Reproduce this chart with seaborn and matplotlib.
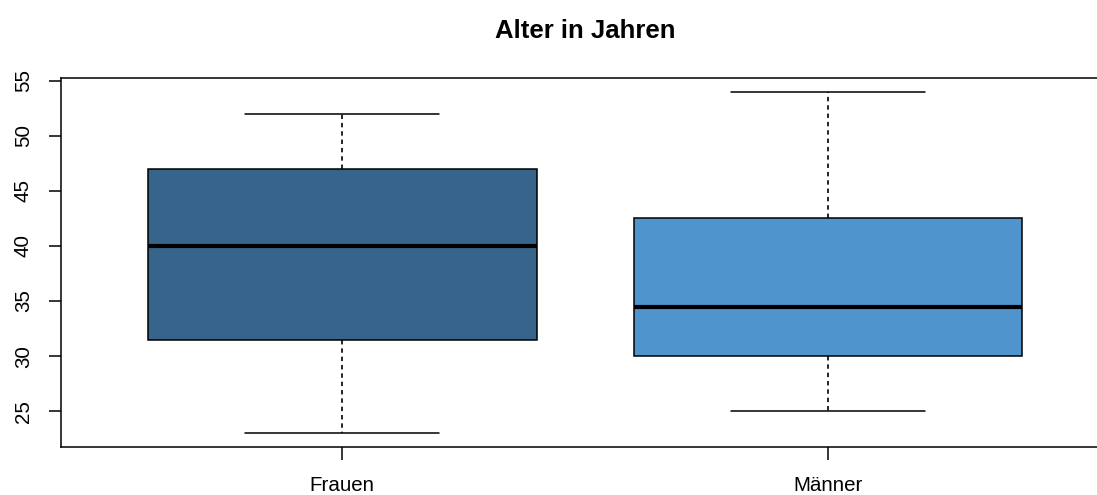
import pandas as pd
import seaborn as sns
import matplotlib.pyplot as plt

# Five-number summaries (min, Q1, median, Q3, max)
gruppen = ['Frauen', 'Männer']
alter_frauen = [23, 31.5, 40, 47, 52]
alter_maenner = [25, 30, 34.5, 42.5, 54]
farben = ['#36648B', '#4F94CD']  # steelblue4 / steelblue3
y_ticks = [25, 30, 35, 40, 45, 50, 55]

df = pd.DataFrame({
    'gruppe': [gruppen[0]] * len(alter_frauen) + [gruppen[1]] * len(alter_maenner),
    'alter': alter_frauen + alter_maenner,
})

sns.set_style('white')
plt.rcParams['font.family'] = ['Liberation Sans', 'DejaVu Sans']
plt.rcParams['text.color'] = 'black'
plt.rcParams['lines.scale_dashes'] = False

fig = plt.figure(figsize=(10.97, 4.95), dpi=100)
ax = fig.add_axes([60.6 / 1097, 48 / 495, 1049 / 1097, 369 / 495])

sns.boxplot(data=df, x='gruppe', y='alter', hue='gruppe', order=gruppen,
            palette=farben, saturation=1, width=0.8, whis=1.5,
            showfliers=False, linecolor='black', linewidth=1.1,
            legend=False, ax=ax,
            whiskerprops={'linestyle': (0, (3.2, 2.8)), 'linewidth': 1.2},
            medianprops={'linewidth': 3.0, 'color': 'black'})

ax.set_xlim(-0.58, 1.58)
ax.set_ylim(21.74, 55.26)
ax.set_yticks(y_ticks)
ax.set_xlabel('')
ax.set_ylabel('')
ax.set_title('Alter in Jahren', fontsize=18.5, fontweight='bold', pad=29,
             color='black')

for side in ['left', 'right', 'top', 'bottom']:
    ax.spines[side].set_visible(True)
    ax.spines[side].set_color('black')
    ax.spines[side].set_linewidth(1.1)

ax.tick_params(axis='both', direction='out', length=9, width=1.1,
               color='black', labelsize=14.8, labelcolor='black',
               left=True, bottom=True)
ax.tick_params(axis='y', pad=11)
ax.tick_params(axis='x', pad=12)
plt.setp(ax.get_yticklabels(), rotation=90, va='center')

fig.savefig('out.png', dpi=100)
